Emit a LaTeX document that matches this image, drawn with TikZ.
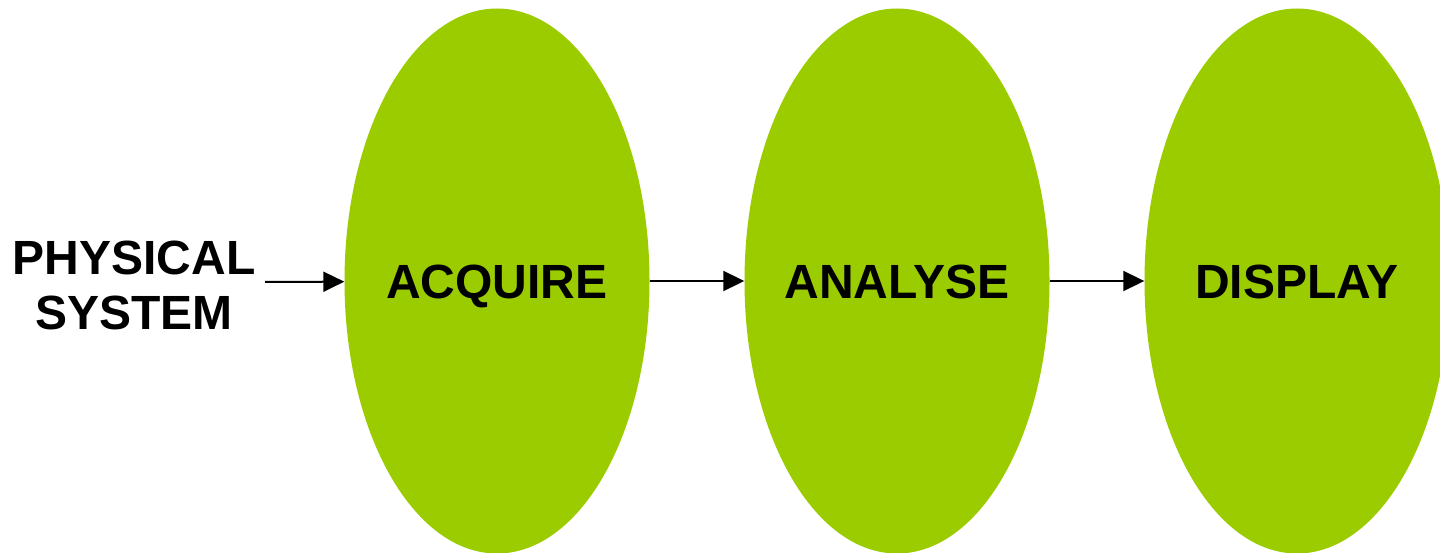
\documentclass[tikz,border=0pt]{standalone}
\usepackage{fontspec}
\setmainfont{Liberation Sans}
\usetikzlibrary{shapes.geometric,arrows.meta}
\definecolor{lime}{RGB}{154,204,0}
\begin{document}
\begin{tikzpicture}[x=1pt,y=-1pt,
  blob/.style={ellipse,fill=lime,draw=none,minimum width=305pt,minimum height=545pt,inner sep=0pt,
    text height=35pt,text depth=0pt,font=\fontsize{48}{55}\selectfont\bfseries},
  lbl/.style={align=center,inner ysep=0pt,inner xsep=11pt,font=\fontsize{48}{55}\selectfont\bfseries},
  conn/.style={line width=2pt,-{Triangle[length=21pt,width=20pt]}}]
\useasboundingbox (0,0) rectangle (1440,553);
\node[blob] (acq) at (497,281) {\makebox[0pt]{ACQUIRE}};
\node[blob] (ana) at (897,281) {\makebox[0pt]{ANALYSE}};
\node[blob] (dis) at (1297,281) {\makebox[0pt]{DISPLAY}};
\node[lbl] (phys) at (134,285) {PHYSICAL\\SYSTEM};
\coordinate (ps) at (265,282);
\draw[conn] (ps) -- (acq);
\draw[conn] (acq) -- (ana);
\draw[conn] (ana) -- (dis);
\end{tikzpicture}
\end{document}
